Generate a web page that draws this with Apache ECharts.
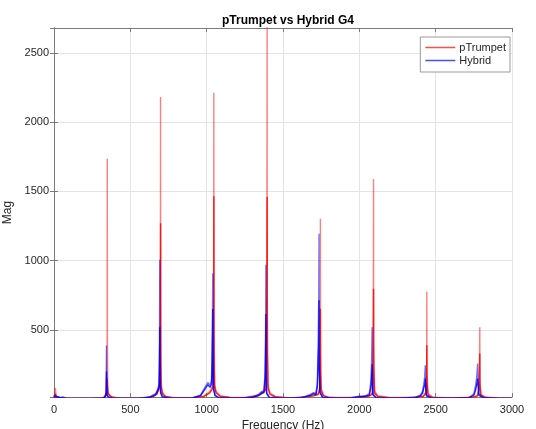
<!DOCTYPE html>
<html>
<head>
<meta charset="utf-8">
<script src="https://cdn.jsdelivr.net/npm/echarts@6/dist/echarts.min.js"></script>
<style>
html, body { margin: 0; padding: 0; background: #fff; }
#chart { width: 536px; height: 429px; }
</style>
</head>
<body>
<div id="chart"></div>
<script>
// spectrum points: frequency (Hz) and magnitude
var redFreq = [0, 5, 9, 13, 20, 40, 100, 200, 300, 330, 340, 345, 348, 349, 350, 352, 356, 365, 380, 420, 500,
  600, 650, 675, 688, 694, 697, 698, 699, 702, 710, 730, 780, 900, 980, 1020, 1035, 1042, 1046, 1047, 1048, 1052,
  1062, 1090, 1150, 1250, 1340, 1375, 1388, 1394, 1396, 1397, 1402, 1415, 1450, 1550, 1650, 1700, 1730, 1741, 1744,
  1745, 1746, 1750, 1765, 1800, 1900, 2000, 2060, 2085, 2091, 2093, 2094, 2100, 2120, 2200, 2350, 2420, 2437, 2441,
  2442, 2443, 2450, 2480, 2600, 2740, 2775, 2786, 2789, 2790, 2796, 2830, 2900, 3000];
var redMagA = [10, 40, 83, 30, 12, 8, 6, 6, 8, 14, 25, 60, 380, 1736, 420, 110, 45, 28, 18, 10, 7,
  10, 22, 45, 90, 130, 600, 2182, 560, 120, 50, 22, 12, 10, 22, 55, 85, 110, 700, 2213, 620, 110,
  55, 25, 14, 12, 30, 60, 80, 600, 2750, 700, 100, 45, 20, 10, 18, 30, 40, 90, 400,
  1303, 350, 80, 30, 15, 12, 14, 25, 45, 300, 1590, 400, 60, 25, 12, 12, 25, 55, 250,
  775, 200, 40, 15, 10, 14, 30, 120, 520, 140, 35, 14, 10, 8];
var redMagB = [8, 20, 40, 18, 9, 6, 5, 5, 7, 12, 20, 40, 100, 150, 90, 60, 35, 22, 14, 8, 6,
  8, 18, 38, 75, 110, 400, 1271, 300, 90, 40, 18, 10, 8, 18, 45, 70, 90, 400, 1466, 350, 90,
  45, 20, 12, 10, 25, 50, 70, 400, 1459, 350, 80, 35, 16, 8, 15, 25, 34, 70, 250,
  653, 200, 60, 24, 12, 10, 12, 20, 35, 200, 798, 220, 45, 20, 10, 10, 20, 45, 150,
  389, 120, 30, 12, 8, 12, 24, 90, 330, 100, 28, 12, 8, 6];

var blueFreq = [0, 3, 8, 14, 20, 30, 45, 60, 80, 150, 250, 320, 335, 341, 344, 345, 347, 355, 380, 450,
  560, 630, 665, 680, 688, 691, 693, 694, 698, 710, 760, 900, 960, 990, 1008, 1022, 1032, 1037, 1040, 1041, 1045,
  1055, 1080, 1200, 1300, 1340, 1360, 1375, 1383, 1386, 1388, 1389, 1393, 1410, 1500, 1620, 1680, 1700, 1715, 1725,
  1730, 1734, 1736, 1737, 1742, 1760, 1850, 1950, 2000, 2040, 2065, 2075, 2080, 2084, 2085, 2090, 2110, 2250, 2370,
  2400, 2415, 2422, 2428, 2432, 2434, 2440, 2470, 2600, 2720, 2750, 2760, 2768, 2775, 2777, 2783, 2810, 2900, 3000];
var blueMagA = [15, 32, 18, 28, 15, 22, 12, 16, 8, 5, 6, 10, 20, 45, 387, 180, 40, 18, 10, 6,
  8, 18, 40, 75, 110, 400, 1006, 300, 60, 20, 8, 8, 30, 90, 122, 100, 140, 500, 910, 420, 90,
  30, 12, 8, 14, 35, 55, 60, 200, 500, 970, 350, 50, 15, 8, 12, 35, 48, 40, 120,
  390, 714, 1194, 400, 60, 15, 8, 12, 22, 25, 40, 120, 252, 519, 200, 40, 12, 8, 15,
  30, 60, 110, 160, 245, 130, 30, 10, 8, 12, 40, 90, 150, 258, 200, 40, 12, 8, 6];
var blueMagB = [10, 22, 12, 20, 10, 16, 9, 12, 6, 4, 5, 8, 16, 35, 200, 100, 30, 14, 8, 5,
  7, 15, 32, 60, 90, 250, 519, 180, 45, 16, 7, 7, 25, 75, 105, 85, 110, 300, 652, 250, 70,
  25, 10, 7, 12, 28, 45, 50, 150, 350, 616, 220, 40, 12, 7, 10, 28, 40, 32, 90,
  250, 386, 714, 250, 45, 12, 7, 10, 18, 20, 30, 80, 150, 252, 120, 30, 10, 7, 12,
  24, 45, 82, 100, 150, 90, 24, 8, 7, 10, 30, 60, 100, 150, 120, 30, 10, 7, 5];

var xTicks = [0, 500, 1000, 1500, 2000, 2500, 3000];
var yTicks = [500, 1000, 1500, 2000, 2500];

function pairs(xs, ys) {
  return xs.map(function (x, i) { return [x, ys[i]]; });
}

var chart = echarts.init(document.getElementById('chart'));
var font = 'Liberation Sans, Arial, Helvetica, sans-serif';
var boxColor = '#7a7a7a';

function lineSeries(name, color, opacity, xs, ys) {
  return {
    name: name,
    type: 'line',
    symbol: 'none',
    animation: false,
    lineStyle: { color: color, width: 1.4, opacity: opacity },
    itemStyle: { color: color },
    data: pairs(xs, ys)
  };
}

chart.setOption({
  backgroundColor: '#fff',
  animation: false,
  title: {
    text: 'pTrumpet vs Hybrid G4',
    left: 283,
    top: 10,
    textAlign: 'center',
    textStyle: { fontFamily: font, fontSize: 12, fontWeight: 'bold', color: '#000' }
  },
  legend: {
    orient: 'vertical',
    right: 26,
    top: 37,
    backgroundColor: '#fff',
    borderColor: '#9a9a9a',
    borderWidth: 1,
    borderRadius: 0,
    padding: [5, 4, 6, 5],
    icon: 'rect',
    itemWidth: 30,
    itemHeight: 1.5,
    itemGap: 2,
    itemStyle: { opacity: 0.7 },
    data: ['pTrumpet', 'Hybrid'],
    textStyle: { fontFamily: font, fontSize: 11, color: '#262626', padding: [0, 0, 0, -1] }
  },
  grid: { left: 54, right: 24, top: 28, bottom: 32, outerBoundsMode: 'none', containLabel: false },
  xAxis: [{
    type: 'value',
    min: 0,
    max: 3000,
    interval: 500,
    name: 'Frequency (Hz)',
    nameLocation: 'middle',
    nameGap: 19,
    nameTextStyle: { fontFamily: font, fontSize: 12, color: '#262626' },
    axisLine: { show: true, lineStyle: { color: boxColor, width: 1 } },
    axisTick: { show: true, inside: true, length: 4, lineStyle: { color: boxColor } },
    axisLabel: {
      margin: 7, fontFamily: font, fontSize: 11, color: '#262626',
      formatter: function (v) { return xTicks.indexOf(v) >= 0 ? String(v) : ''; }
    },
    splitLine: { show: true, lineStyle: { color: '#e4e4e4', width: 1 } }
  }, {
    type: 'value',
    position: 'top',
    min: 0,
    max: 3000,
    interval: 500,
    axisLine: { show: true, lineStyle: { color: boxColor, width: 1 } },
    axisTick: { show: true, inside: true, length: 4, lineStyle: { color: boxColor } },
    axisLabel: { show: false },
    splitLine: { show: false }
  }],
  yAxis: [{
    type: 'value',
    min: 16,
    max: 2680,
    splitNumber: 5,
    name: 'Mag',
    nameLocation: 'middle',
    nameGap: 33,
    nameTextStyle: { fontFamily: font, fontSize: 12, color: '#262626' },
    axisLine: { show: true, lineStyle: { color: boxColor, width: 1 } },
    axisTick: { show: true, inside: true, length: 4, lineStyle: { color: boxColor } },
    axisLabel: {
      margin: 5, fontFamily: font, fontSize: 11, color: '#262626',
      formatter: function (v) { return yTicks.indexOf(v) >= 0 ? String(v) : ''; }
    },
    splitLine: { show: true, lineStyle: { color: '#e4e4e4', width: 1 } }
  }, {
    type: 'value',
    position: 'right',
    min: 16,
    max: 2680,
    splitNumber: 5,
    axisLine: { show: true, lineStyle: { color: boxColor, width: 1 } },
    axisTick: { show: true, inside: true, length: 4, lineStyle: { color: boxColor } },
    axisLabel: { show: false },
    splitLine: { show: false }
  }],
  series: [
    lineSeries('pTrumpet', '#ff0000', 0.5, redFreq, redMagA),
    lineSeries('pTrumpet', '#ff0000', 0.85, redFreq, redMagB),
    lineSeries('Hybrid', '#0000ff', 0.55, blueFreq, blueMagA),
    lineSeries('Hybrid', '#0000ff', 0.85, blueFreq, blueMagB)
  ]
});
</script>
</body>
</html>
